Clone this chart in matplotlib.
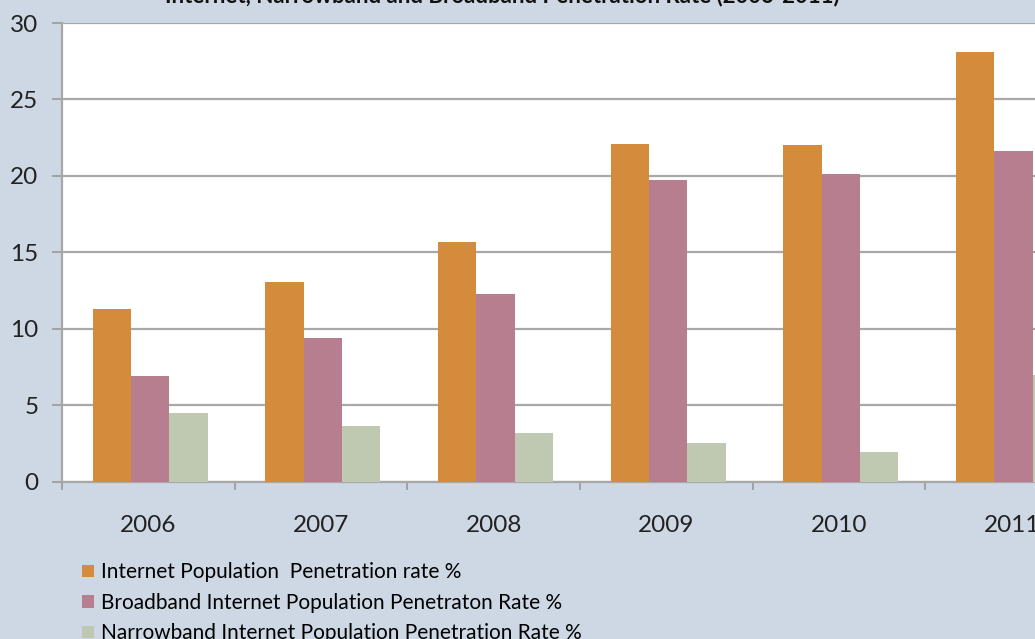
import matplotlib.pyplot as plt
import numpy as np

years = ['2006', '2007', '2008', '2009', '2010', '2011']
internet = [11.3, 13.05, 15.7, 22.1, 22.0, 28.1]
broadband = [6.9, 9.4, 12.3, 19.7, 20.1, 21.6]
narrowband = [4.45, 3.6, 3.2, 2.5, 1.9, 7.0]
labels = ['Internet Population  Penetration rate %',
          'Broadband Internet Population Penetraton Rate %',
          'Narrowband Internet Population Penetration Rate %']
colors = ['#D48C3C', '#B77E90', '#BFC9B1']

bg = '#CDD8E4'
W, H = 1035, 639
fig = plt.figure(figsize=(W / 100, H / 100), dpi=100, facecolor=bg)
plt.rcParams['font.family'] = ['Lato', 'DejaVu Sans']

# plot area runs past the right edge, as in the cropped original
ax = fig.add_axes([62 / W, (H - 481.5) / H, 1036 / W, 458.5 / H])
ax.set_facecolor('white')

x = np.arange(len(years))
bw = 0.222
for i, (vals, c) in enumerate(zip([internet, broadband, narrowband], colors)):
    ax.bar(x + (i - 1) * bw + 0.01, vals, bw, color=c, zorder=3, label=labels[i])

ax.set_xlim(-0.5, 5.5)
ax.set_ylim(0, 30)
ax.set_yticks(range(0, 31, 5))
ax.yaxis.grid(True, color='#A8A8A8', linewidth=1.6, zorder=0)
ax.set_xticks(x)
ax.set_xticklabels(years)
ax.set_xticks(np.arange(-0.5, 6, 1), minor=True)
ax.tick_params(axis='x', which='major', length=0, labelsize=17.5, pad=24, labelcolor='#222222')
ax.tick_params(axis='x', which='minor', length=6, color='#999999', width=1.2)
ax.tick_params(axis='y', length=7, color='#999999', width=1.2, labelsize=17.5, pad=10, labelcolor='#222222')
for s in ['top', 'right']:
    ax.spines[s].set_visible(False)
for s in ['left', 'bottom']:
    ax.spines[s].set_color('#A8A8A8')
    ax.spines[s].set_linewidth(1.6)

# title, mostly cut off at the top of the picture
fig.text(840 / W, 1 - 2 / H, 'Internet, Narrowband and Broadband Penetration Rate (2006-2011)',
         ha='right', va='baseline', fontsize=16, fontweight='bold', color='#111111')

h, l = ax.get_legend_handles_labels()
fig.legend(h, l, loc='upper left', bbox_to_anchor=(74 / W, 1 - 554 / H),
           frameon=False, fontsize=15, handlelength=0.55, handleheight=0.55,
           handletextpad=0.35, labelspacing=0.5, borderaxespad=0)

fig.savefig('out.png', dpi=100, facecolor=bg)
